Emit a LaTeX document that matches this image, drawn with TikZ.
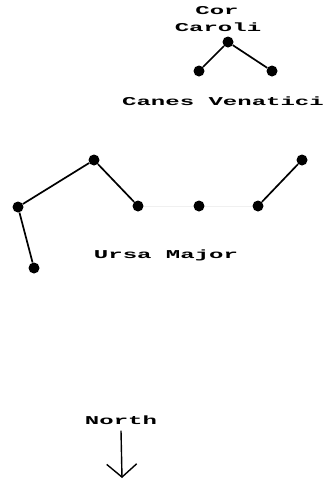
\documentclass[tikz,border=0pt]{standalone}
\usepackage{fontspec}
\setmonofont{Liberation Mono}
\usetikzlibrary{arrows.meta}
\begin{document}
\begin{tikzpicture}[x=1pt,y=-1pt,
  star/.style={circle,fill=black,inner sep=0pt,minimum size=11pt},
  link/.style={line width=1.7pt},
  faint/.style={line width=1pt,black!6},
  lbl/.style={font=\ttfamily\bfseries\fontsize{12}{12}\selectfont,xscale=2.0,inner sep=0pt,anchor=center}]
\useasboundingbox (0,0) rectangle (325,480);
% Canes Venatici
\node[star] (cc) at (228,42) {};
\node[star] (cv1) at (199,71) {};
\node[star] (cv2) at (272,71) {};
\draw[link] (cv1) -- (cc) -- (cv2);
\node[lbl] (cor) at (217,11) {Cor};
\node[lbl] (car) at (218,27) {Caroli};
\node[lbl] (cvn) at (223,101) {Canes Venatici};
% Ursa Major
\node[star] (u1) at (94,160) {};
\node[star] (u2) at (18,207) {};
\node[star] (u3) at (34,268) {};
\node[star] (u4) at (138,206) {};
\node[star] (u5) at (199,206) {};
\node[star] (u6) at (258,206) {};
\node[star] (u7) at (302,160) {};
\draw[faint] (u4) -- (u5) -- (u6);
\draw[link] (u3) -- (u2) -- (u1) -- (u4);
\draw[link] (u6) -- (u7);
\node[lbl] (uma) at (166,255) {Ursa Major};
% North
\node[lbl] (north) at (121,420) {North};
\coordinate (tip) at (122,478);
\draw[line width=1.4pt,-{Straight Barb[length=13pt,width=30pt,line width=1.4pt]}] (north.south) ++(0,6) -- (tip);
\end{tikzpicture}
\end{document}
